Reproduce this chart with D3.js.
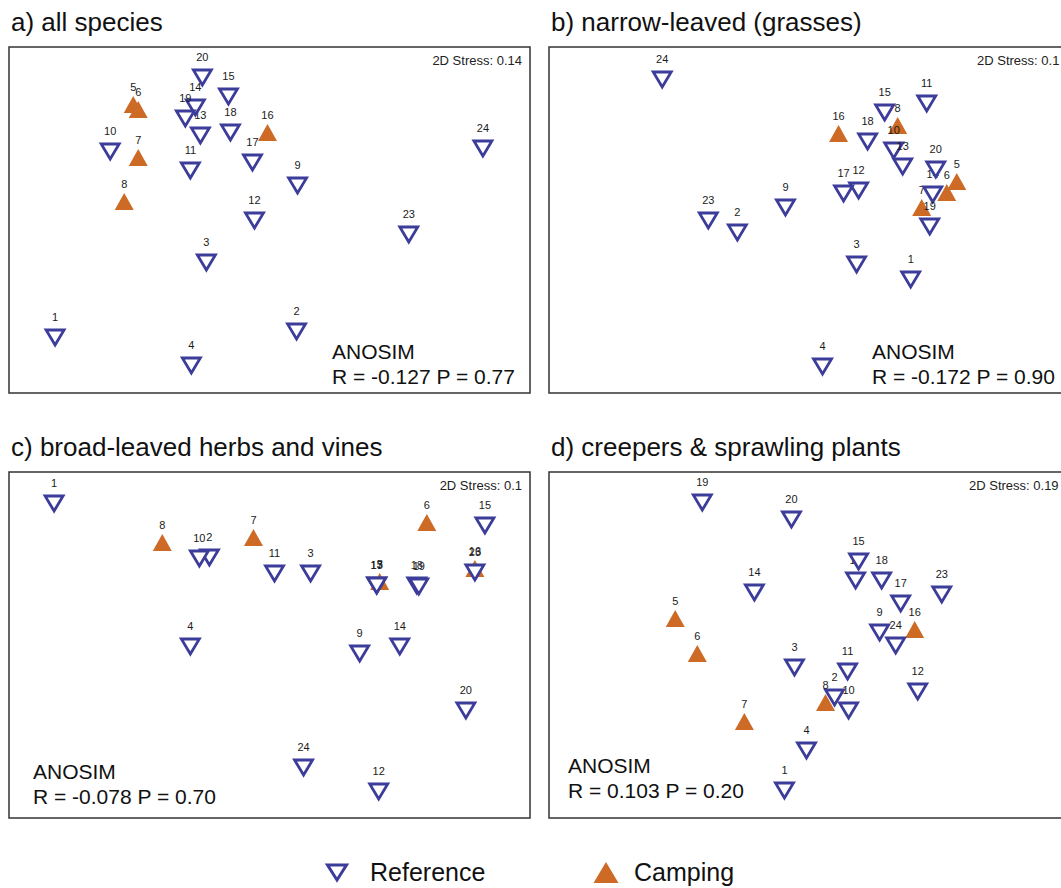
<!DOCTYPE html>
<html>
<head>
<meta charset="utf-8">
<script src="https://cdn.jsdelivr.net/npm/d3@7/dist/d3.min.js"></script>
<style>
  body { margin: 0; background: #fff; }
  text { font-family: "Liberation Sans", Arial, Helvetica, sans-serif; }
</style>
</head>
<body>
<div id="chart"></div>
<script>
// overall size
var width = 1061;
var height = 888;

var refColor = '#3c3c9a';
var campColor = '#cc6a26';

// camping sites, everything else is a reference site
var campingSites = [5, 6, 7, 8, 16];

// nMDS coordinates, same site order in every panel
var sites = [1, 2, 3, 4, 5, 6, 7, 8, 9, 10, 11, 12, 13, 14, 15, 16, 17, 18, 19, 20, 23, 24];

var aX = [-2.14, 0.27, -0.63, -0.78, -1.36, -1.31, -1.31, -1.45, 0.28, -1.59, -0.79, -0.15, -0.69, -0.74, -0.41, -0.02, -0.17, -0.39, -0.84, -0.67, 1.39, 2.13];
var aY = [-1.17, -1.11, -0.42, -1.45, 1.15, 1.10, 0.62, 0.18, 0.35, 0.69, 0.50, 0.00, 0.85, 1.13, 1.24, 0.87, 0.58, 0.88, 1.02, 1.43, -0.14, 0.72];

var bX = [1.01, -0.72, 0.47, 0.13, 1.47, 1.37, 1.12, 0.88, -0.24, 0.84, 1.17, 0.49, 0.93, 1.23, 0.75, 0.29, 0.34, 0.58, 1.20, 1.26, -1.01, -1.47];
var bY = [-0.59, -0.12, -0.44, -1.46, 0.38, 0.27, 0.12, 0.94, 0.13, 0.70, 1.17, 0.30, 0.54, 0.26, 1.08, 0.86, 0.27, 0.79, -0.06, 0.51, 0.00, 1.41];

var cX = [-2.15, -0.60, 0.41, -0.79, 1.10, 1.57, -0.16, -1.07, 0.90, -0.70, 0.05, 1.09, 1.07, 1.30, 2.15, 2.05, 1.07, 1.47, 1.49, 1.96, 2.05, 0.34];
var cY = [1.42, 0.88, 0.72, -0.01, 0.63, 1.22, 1.07, 1.02, -0.08, 0.87, 0.72, -1.46, 0.60, -0.01, 1.20, 0.76, 0.60, 0.60, 0.59, -0.65, 0.73, -1.22];

var dX = [-0.25, 0.25, -0.15, -0.03, -1.34, -1.12, -0.65, 0.16, 0.70, 0.39, 0.38, 1.08, 0.46, -0.55, 0.49, 1.05, 0.91, 0.72, -1.07, -0.18, 1.32, 0.86];
var dY = [-1.45, -0.52, -0.22, -1.05, 0.26, -0.09, -0.77, -0.58, 0.13, -0.65, -0.26, -0.46, 0.65, 0.53, 0.84, 0.15, 0.42, 0.65, 1.43, 1.26, 0.51, 0.00];

var titles = ['a) all species', 'b) narrow-leaved (grasses)', 'c) broad-leaved herbs and vines', 'd) creepers & sprawling plants'];
var stressLabels = ['2D Stress: 0.14', '2D Stress: 0.1', '2D Stress: 0.1', '2D Stress: 0.19'];
var anosimLabels = ['R = -0.127 P = 0.77', 'R = -0.172 P = 0.90', 'R = -0.078 P = 0.70', 'R = 0.103 P = 0.20'];

var legendLabels = ['Reference', 'Camping'];

// panel boxes (b and d run off the right edge like in the original)
var boxW = 521, boxH = 346;
var panels = [
  { xs: aX, ys: aY, bx: 9,   by: 47,  stressX: 522, stressAnchor: 'end',   anoX: 332, anoY: 359 },
  { xs: bX, ys: bY, bx: 549, by: 47,  stressX: 977, stressAnchor: 'start', anoX: 872, anoY: 359 },
  { xs: cX, ys: cY, bx: 9,   by: 472, stressX: 522, stressAnchor: 'end',   anoX: 33,  anoY: 779 },
  { xs: dX, ys: dY, bx: 549, by: 472, stressX: 969, stressAnchor: 'start', anoX: 568, anoY: 773 }
];

var downTri = 'M-9,-7L9,-7L0,8Z';
var upTri = 'M-9.5,8L9.5,8L0,-9Z';

var svg = d3.select('#chart')
  .append('svg')
  .attr('width', width)
  .attr('height', height);

panels.forEach(function(p, i) {
  var x = d3.scaleLinear().domain([-2.6, 2.6]).range([p.bx, p.bx + boxW]);
  var y = d3.scaleLinear().domain([1.73, -1.73]).range([p.by, p.by + boxH]);

  svg.append('text')
    .attr('x', p.bx + 2)
    .attr('y', p.by - 16)
    .attr('font-size', '26px')
    .attr('fill', '#111')
    .text(titles[i]);

  svg.append('rect')
    .attr('x', p.bx)
    .attr('y', p.by)
    .attr('width', boxW)
    .attr('height', boxH)
    .attr('fill', 'none')
    .attr('stroke', '#333')
    .attr('stroke-width', 1.5);

  svg.append('text')
    .attr('x', p.stressX)
    .attr('y', p.by + 18)
    .attr('text-anchor', p.stressAnchor)
    .attr('font-size', '13px')
    .attr('fill', '#222')
    .text(stressLabels[i]);

  var data = sites.map(function(s, j) {
    return { site: s, x: p.xs[j], y: p.ys[j], camp: campingSites.includes(s) };
  });

  var pts = svg.append('g').selectAll('g')
    .data(data)
    .enter()
    .append('g')
    .attr('transform', function(d) { return 'translate(' + x(d.x) + ',' + y(d.y) + ')'; });

  pts.append('path')
    .attr('d', function(d) { return d.camp ? upTri : downTri; })
    .attr('fill', function(d) { return d.camp ? campColor : '#fff'; })
    .attr('stroke', function(d) { return d.camp ? 'none' : refColor; })
    .attr('stroke-width', 2.8)
    .attr('stroke-linejoin', 'miter');

  pts.append('text')
    .attr('y', function(d) { return d.camp ? -14 : -16; })
    .attr('text-anchor', 'middle')
    .attr('font-size', '11px')
    .attr('fill', '#1a1a1a')
    .text(function(d) { return d.site; });

  svg.append('text')
    .attr('x', p.anoX)
    .attr('y', p.anoY)
    .attr('font-size', '21px')
    .attr('fill', '#111')
    .text('ANOSIM');

  svg.append('text')
    .attr('x', p.anoX)
    .attr('y', p.anoY + 25)
    .attr('font-size', '21px')
    .attr('fill', '#111')
    .text(anosimLabels[i]);
});

// legend
var legend = svg.append('g');
legend.append('path')
  .attr('d', 'M-9.5,-7L9.5,-7L0,8Z')
  .attr('transform', 'translate(337,872)')
  .attr('fill', '#fff')
  .attr('stroke', refColor)
  .attr('stroke-width', 3);
legend.append('text')
  .attr('x', 370)
  .attr('y', 881)
  .attr('font-size', '25px')
  .attr('fill', '#111')
  .text(legendLabels[0]);
legend.append('path')
  .attr('d', 'M-12.5,10L12.5,10L0,-11Z')
  .attr('transform', 'translate(606,873)')
  .attr('fill', campColor);
legend.append('text')
  .attr('x', 634)
  .attr('y', 881)
  .attr('font-size', '25px')
  .attr('fill', '#111')
  .text(legendLabels[1]);
</script>
</body>
</html>
